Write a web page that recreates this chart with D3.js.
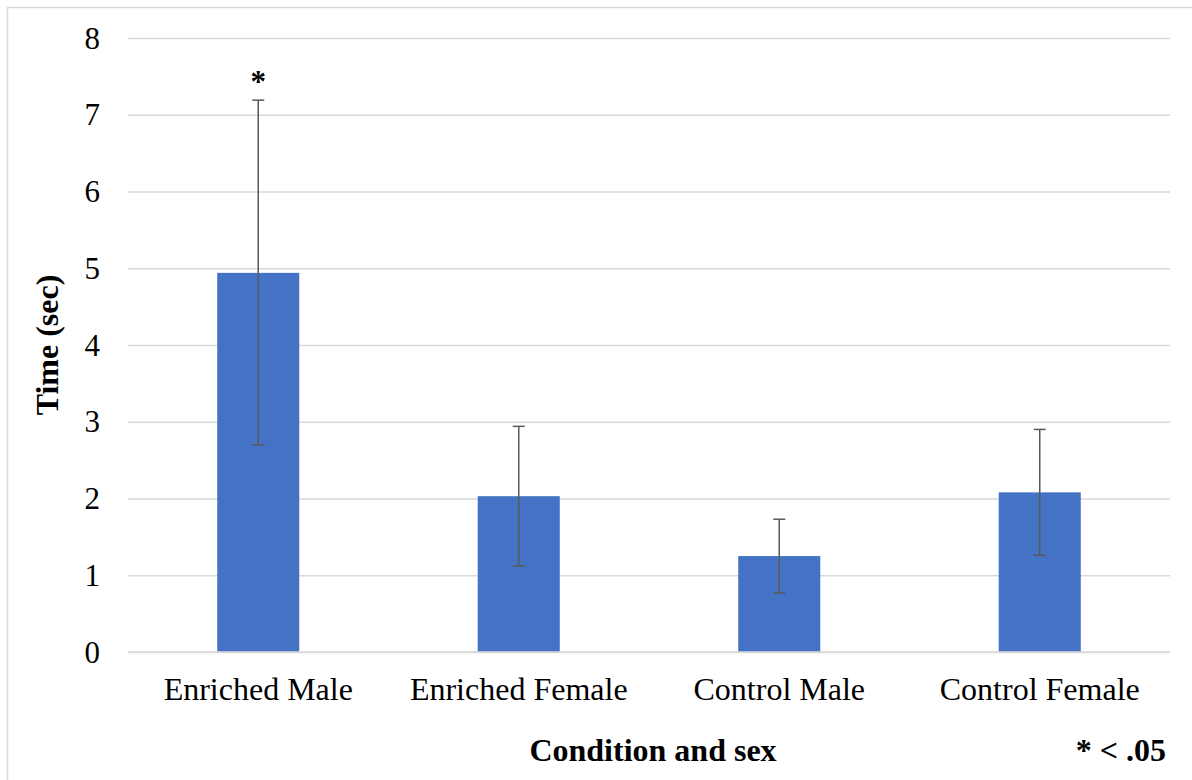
<!DOCTYPE html>
<html>
<head>
<meta charset="utf-8">
<script src="https://cdn.jsdelivr.net/npm/d3@7"></script>
<style>
  body { margin: 0; background: #fff; }
</style>
</head>
<body>
<svg id="chart" width="1192" height="780" font-family="Liberation Serif"></svg>
<script>
const categories = ['Enriched Male', 'Enriched Female', 'Control Male', 'Control Female'];
const means = [4.94, 2.03, 1.25, 2.08];
const errLow = [2.70, 1.12, 0.77, 1.26];
const errHigh = [7.19, 2.94, 1.73, 2.90];
const sigMarks = ['*', '', '', ''];
const yTicks = [0, 1, 2, 3, 4, 5, 6, 7, 8];

const FONT = 'Liberation Serif';
const svg = d3.select('#chart');
const margin = {top: 38, right: 22, bottom: 128, left: 128};
const width = 1192 - margin.left - margin.right;
const height = 780 - margin.top - margin.bottom;

// outer frame
svg.append('rect').attr('x', 7.5).attr('y', 7.5).attr('width', 1192).attr('height', 790)
  .attr('fill', 'none').attr('stroke', '#d9d9d9').attr('stroke-width', 1.5);

const g = svg.append('g').attr('transform', `translate(${margin.left},${margin.top})`);

const x = d3.scaleBand().domain(categories).range([0, width]).paddingInner(0.685).paddingOuter(0.3425);
const y = d3.scaleLinear().domain([0, 8]).range([height, 0]);

// gridlines
g.append('g').attr('class', 'grid')
  .call(d3.axisLeft(y).tickValues(yTicks).tickSize(-width).tickFormat(''))
  .call(s => s.select('.domain').remove())
  .call(s => s.selectAll('line').attr('stroke', '#d9d9d9').attr('stroke-width', 1.5));

// y labels
g.append('g').attr('class', 'y-axis')
  .call(d3.axisLeft(y).tickValues(yTicks).tickSize(0).tickPadding(28))
  .attr('font-family', FONT).attr('font-size', 31)
  .call(s => s.select('.domain').remove())
  .call(s => s.selectAll('text').attr('fill', '#000').attr('dy', '0.33em'));

// bars
g.selectAll('.bar').data(means).enter().append('rect')
  .attr('class', 'bar')
  .attr('x', (d, i) => x(categories[i]))
  .attr('width', x.bandwidth())
  .attr('y', d => y(d))
  .attr('height', d => height - y(d))
  .attr('fill', '#4472c4');

// error bars
const eb = g.append('g').attr('stroke', '#595959').attr('stroke-width', 1.5);
categories.forEach((c, i) => {
  const cx = x(c) + x.bandwidth() / 2;
  eb.append('line').attr('x1', cx).attr('x2', cx).attr('y1', y(errLow[i])).attr('y2', y(errHigh[i]));
  [errLow[i], errHigh[i]].forEach(v => {
    eb.append('line').attr('x1', cx - 6).attr('x2', cx + 6).attr('y1', y(v)).attr('y2', y(v));
  });
  if (sigMarks[i]) {
    g.append('text').attr('x', cx).attr('y', y(errHigh[i]) - 8)
      .attr('text-anchor', 'middle').attr('font-family', FONT).attr('font-size', 31)
      .attr('font-weight', 'bold').text(sigMarks[i]);
  }
});

// baseline
g.append('line').attr('x1', 0).attr('x2', width).attr('y1', height).attr('y2', height)
  .attr('stroke', '#d9d9d9').attr('stroke-width', 1.5);

// x labels
g.append('g').attr('transform', `translate(0,${height})`)
  .call(d3.axisBottom(x).tickSize(0).tickPadding(25))
  .attr('font-family', FONT).attr('font-size', 32)
  .call(s => s.select('.domain').remove())
  .call(s => s.selectAll('text').attr('fill', '#000'));

// axis titles
const title = (sel) => sel.attr('font-family', FONT).attr('font-size', 32).attr('font-weight', 'bold');
svg.append('text').attr('x', 653).attr('y', 761).attr('text-anchor', 'middle')
  .call(title).text('Condition and sex');
svg.append('text').attr('transform', 'translate(58,345) rotate(-90)').attr('text-anchor', 'middle')
  .call(title).text('Time (sec)');
svg.append('text').attr('x', 1166).attr('y', 761).attr('text-anchor', 'end')
  .call(title).text('* < .05');
</script>
</body>
</html>
